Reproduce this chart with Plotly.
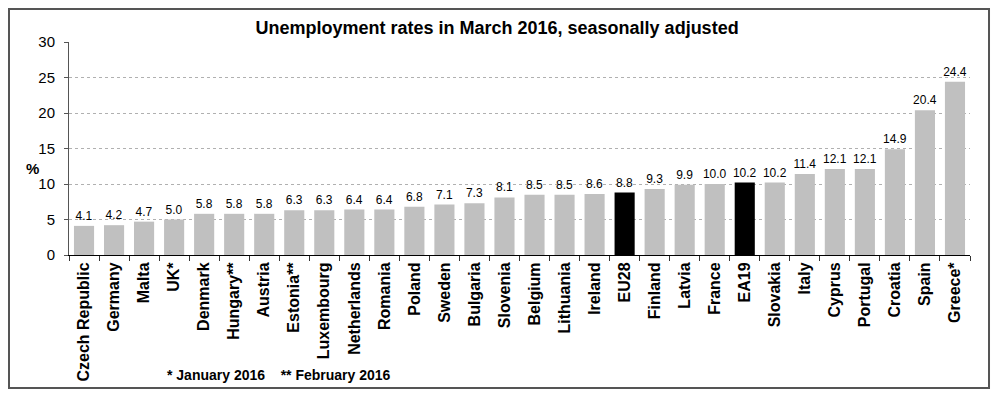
import plotly.graph_objects as go

countries = ["Czech Republic", "Germany", "Malta", "UK*", "Denmark", "Hungary**", "Austria",
             "Estonia**", "Luxembourg", "Netherlands", "Romania", "Poland", "Sweden", "Bulgaria",
             "Slovenia", "Belgium", "Lithuania", "Ireland", "EU28", "Finland", "Latvia", "France",
             "EA19", "Slovakia", "Italy", "Cyprus", "Portugal", "Croatia", "Spain", "Greece*"]
rates = [4.1, 4.2, 4.7, 5.0, 5.8, 5.8, 5.8, 6.3, 6.3, 6.4, 6.4, 6.8, 7.1, 7.3, 8.1, 8.5, 8.5,
         8.6, 8.8, 9.3, 9.9, 10.0, 10.2, 10.2, 11.4, 12.1, 12.1, 14.9, 20.4, 24.4]
highlight = ["EU28", "EA19"]
y_ticks = [0, 5, 10, 15, 20, 25, 30]

FONT = "Liberation Sans, Arial, sans-serif"
colors = ["#000000" if c in highlight else "#c0c0c0" for c in countries]

fig = go.Figure(go.Bar(
    x=countries, y=rates, marker=dict(color=colors, line=dict(width=0)),
    text=[f"{v:.1f}" for v in rates], textposition="outside", constraintext="none",
    textfont=dict(family=FONT, size=12, color="#000"), cliponaxis=False,
))

fig.update_layout(
    width=984, height=381,
    margin=dict(l=61, r=22, t=34, b=134, autoexpand=False),
    paper_bgcolor="white", plot_bgcolor="white",
    bargap=0.33, showlegend=False,
    font=dict(family=FONT, color="#000"),
    title=dict(text="<b>Unemployment rates in March 2016, seasonally adjusted</b>",
               x=0.497, xanchor="center", y=0.9475, yanchor="middle",
               font=dict(family=FONT, size=18, color="#000")),
    xaxis=dict(tickangle=-90, tickfont=dict(family=FONT, size=16, weight="bold"),
               showline=True, linecolor="#000", linewidth=1,
               ticks="outside", tickson="boundaries", ticklen=5, tickcolor="#333",
               showgrid=False, automargin=False),
    yaxis=dict(range=[0, 30], tickvals=y_ticks, tickfont=dict(family=FONT, size=15),
               showline=True, linecolor="#555", linewidth=1,
               ticks="outside", ticklen=4, tickcolor="#555", ticklabelstandoff=6,
               showgrid=True, gridcolor="#b0b0b0", griddash="dot", gridwidth=1,
               zeroline=False, automargin=False),
    shapes=[dict(type="rect", xref="paper", yref="paper", x0=-0.0666, x1=1.0211,
                 y0=-0.624, y1=1.155, line=dict(color="#555", width=2))],
    annotations=[
        dict(text="<b>%</b>", xref="paper", yref="paper", x=-0.05, y=0.408,
             showarrow=False, font=dict(family=FONT, size=15)),
        dict(text="<b>* January 2016    ** February 2016</b>", xref="paper", yref="paper",
             x=0.1065, y=-0.563, xanchor="left", yanchor="middle", showarrow=False,
             font=dict(family=FONT, size=14)),
    ],
)

fig.write_html("out.html")
